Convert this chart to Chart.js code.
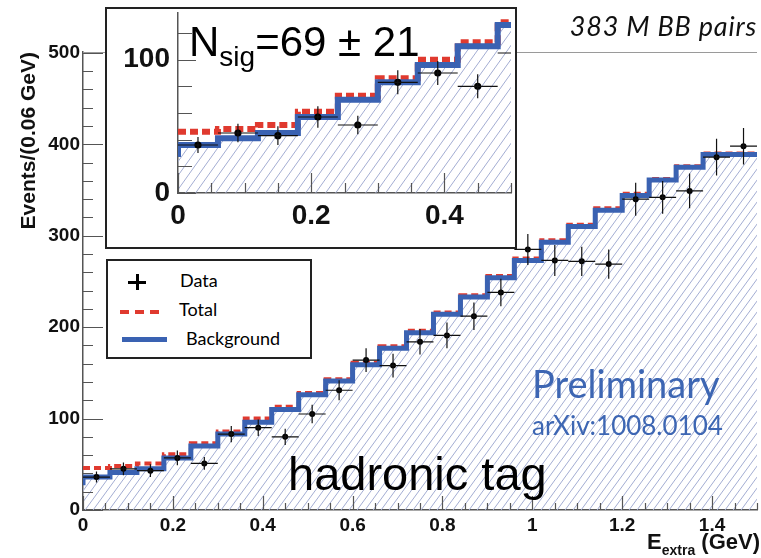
<!DOCTYPE html>
<html>
<head>
<meta charset="utf-8">
<title>E_extra hadronic tag</title>
<script src="https://cdn.jsdelivr.net/npm/chart.js@4.4.1/dist/chart.umd.min.js"></script>
<style>
body { margin: 0; background: #fff; }
#wrap { position: relative; width: 761px; height: 558px; overflow: hidden; background: #fff; }
#mainChart { position: absolute; left: 0; top: 0; }
#insetBox { position: absolute; left: 105px; top: 7px; width: 412px; height: 242px; border: 2px solid #222; box-sizing: border-box; background: #fff; }
#insetChart { position: absolute; left: 0; top: 0; }
.txt { position: absolute; white-space: nowrap; line-height: 1; }
.helv { font-family: 'Liberation Sans', Arial, sans-serif; }
.gill { font-family: Lato, 'Open Sans', sans-serif; }
#legendBox { position: absolute; left: 106px; top: 259px; width: 206px; height: 100px; border: 2px solid #222; box-sizing: border-box; background: #fff; }
.mk { position: absolute; }
</style>
</head>
<body>
<div id="wrap">
    <canvas id="mainChart" width="761" height="558"></canvas>

    <div id="insetBox">
        <canvas id="insetChart" width="408" height="238"></canvas>
    </div>
    <div class="txt helv" style="left:189px; top:21px; font-size:42px; color:#000;">N<span style="font-size:28px; position:relative; top:10px;">sig</span>=69 ± 21</div>

    <div id="legendBox"></div>
    <div class="mk" style="left:128px; top:281px; width:18px; height:3px; background:#000;"></div>
    <div class="mk" style="left:136px; top:274px; width:3px; height:16px; background:#000;"></div>
    <div class="mk" style="left:120px; top:310px; width:9px; height:4px; background:#e03a2f;"></div>
    <div class="mk" style="left:135px; top:310px; width:9px; height:4px; background:#e03a2f;"></div>
    <div class="mk" style="left:150px; top:310px; width:9px; height:4px; background:#e03a2f;"></div>
    <div class="mk" style="left:122px; top:337px; width:45px; height:5px; background:#3a62b2;"></div>
    <div class="txt gill" style="left:180px; top:271px; font-size:18px;">Data</div>
    <div class="txt gill" style="left:179px; top:300px; font-size:18px;">Total</div>
    <div class="txt gill" style="left:186px; top:329px; font-size:18px;">Background</div>

    <div class="txt gill" style="right:4px; top:12px; font-size:27px; letter-spacing:0.8px; font-style:italic; color:#111;">383 M BB pairs</div>
    <div class="txt gill" style="left:532px; top:364px; font-size:38px; color:#3d66b3;">Preliminary</div>
    <div class="txt gill" style="left:532px; top:412px; font-size:26px; color:#3d66b3;">arXiv:1008.0104</div>
    <div class="txt helv" style="left:288px; top:450px; font-size:47px; color:#000;">hadronic tag</div>
    <div class="txt helv" style="right:1px; top:531px; font-size:22px; font-weight:bold; color:#111;">E<span style="font-size:14px; position:relative; top:6px;">extra</span> (GeV)</div>
</div>

<script>
// bins of 0.06 GeV, centres
var binCenters = [0.03, 0.09, 0.15, 0.21, 0.27, 0.33, 0.39, 0.45, 0.51, 0.57, 0.63, 0.69, 0.75,
                  0.81, 0.87, 0.93, 0.99, 1.05, 1.11, 1.17, 1.23, 1.29, 1.35, 1.41, 1.47];
var binWidth = 0.06;

var dataEvents = [36, 45, 43, 57, 51, 83, 90, 80, 105, 131, 164, 158, 184,
                  191, 212, 238, 285, 273, 272, 269, 340, 342, 349, 386, 398];
var dataErrors = [6, 7, 7, 8, 7, 9, 9, 9, 10, 11, 13, 13, 14,
                  14, 15, 15, 17, 17, 16, 16, 18, 18, 19, 20, 20];
var totalFit = [46, 46, 48, 51, 61, 73, 86, 100, 113, 128, 143, 161, 179,
                196, 216, 235, 256, 275, 295, 312, 330, 346, 362, 376, 390];
var backgroundFit = [27, 36, 41, 45, 57, 70, 83, 96, 110, 126, 141, 159, 177,
                     194, 214, 233, 254, 273, 293, 310, 328, 344, 361, 375, 389];

var xTickValues = [0, 0.2, 0.4, 0.6, 0.8, 1, 1.2, 1.4];
var yTickValues = [0, 100, 200, 300, 400, 500];
var insetXTickValues = [0, 0.2, 0.4];
var insetYTickValues = [0, 100];

var blueColor = '#3a62b2';
var redColor = '#e03a2f';

function stepPoints(values) {
    var pts = binCenters.map(function (c, i) {
        return { x: c - binWidth / 2, y: values[i] };
    });
    var last = binCenters.length - 1;
    pts.push({ x: binCenters[last] + binWidth / 2, y: values[last] });
    return pts;
}

function makeHatch(w, h, color) {
    var c = document.createElement('canvas');
    c.width = w; c.height = h;
    var g = c.getContext('2d');
    g.strokeStyle = color;
    g.lineWidth = 1;
    for (var k = -1; k <= 1; k++) {
        g.beginPath();
        g.moveTo(k * w, h);
        g.lineTo(k * w + w, 0);
        g.stroke();
    }
    return g.createPattern(c, 'repeat');
}

function fixedTicks(values) {
    return function (scale) {
        scale.ticks = values.map(function (v) { return { value: v }; });
    };
}

var errorBarPlugin = {
    id: 'errorBars',
    afterDatasetsDraw: function (chart, args, opts) {
        var xs = chart.scales.x, ys = chart.scales.y, ctx = chart.ctx, a = chart.chartArea;
        ctx.save();
        ctx.beginPath();
        ctx.rect(a.left, a.top, a.right - a.left, a.bottom - a.top);
        ctx.clip();
        ctx.strokeStyle = '#111';
        ctx.lineWidth = opts.lineWidth;
        binCenters.forEach(function (c, i) {
            var px = xs.getPixelForValue(c);
            var py = ys.getPixelForValue(dataEvents[i]);
            var x0 = xs.getPixelForValue(c - binWidth / 2), x1 = xs.getPixelForValue(c + binWidth / 2);
            var y0 = ys.getPixelForValue(dataEvents[i] - dataErrors[i]);
            var y1 = ys.getPixelForValue(dataEvents[i] + dataErrors[i]);
            ctx.beginPath();
            ctx.moveTo(x0, py); ctx.lineTo(x1, py);
            ctx.moveTo(px, y0); ctx.lineTo(px, y1);
            ctx.stroke();
        });
        ctx.restore();
    }
};

// inward ROOT style ticks and the frame
var frameTicksPlugin = {
    id: 'frameTicks',
    afterDraw: function (chart, args, o) {
        var a = chart.chartArea, ctx = chart.ctx, xs = chart.scales.x, ys = chart.scales.y;
        ctx.save();
        if (o.frameColor) {
            ctx.strokeStyle = o.frameColor;
            ctx.lineWidth = 1;
            ctx.beginPath();
            ctx.moveTo(a.left, a.top + 0.5); ctx.lineTo(a.right, a.top + 0.5);
            ctx.stroke();
        }
        ctx.strokeStyle = o.tickColor;
        ctx.lineWidth = 1.2;
        ctx.beginPath();
        var n = Math.round(ys.max / o.yMinor);
        for (var i = 0; i <= n; i++) {
            var v = i * o.yMinor;
            if (v > ys.max) break;
            var len = (i % o.yPer === 0) ? o.yMajorLen : o.yMinorLen;
            var py = Math.round(ys.getPixelForValue(v)) + 0.5;
            ctx.moveTo(a.left, py); ctx.lineTo(a.left + len, py);
        }
        var m = Math.round(xs.max / o.xMinor);
        for (var j = 0; j <= m; j++) {
            var u = j * o.xMinor;
            var l2 = (j % o.xPer === 0) ? o.xMajorLen : o.xMinorLen;
            var px = Math.round(xs.getPixelForValue(u)) + 0.5;
            ctx.moveTo(px, a.bottom); ctx.lineTo(px, a.bottom - l2);
        }
        ctx.stroke();
        ctx.restore();
    }
};

function histDatasets(hatch, lw) {
    return [
        {
            label: 'Data',
            data: binCenters.map(function (c, i) { return { x: c, y: dataEvents[i] }; }),
            showLine: false,
            pointRadius: lw.dot,
            pointBackgroundColor: '#000',
            pointBorderWidth: 0,
            order: 0
        },
        {
            label: 'Background',
            data: stepPoints(backgroundFit),
            stepped: 'after',
            borderColor: blueColor,
            borderWidth: lw.blue,
            backgroundColor: hatch,
            fill: 'origin',
            pointRadius: 0,
            order: 1
        },
        {
            label: 'Total',
            data: stepPoints(totalFit),
            stepped: 'after',
            borderColor: redColor,
            borderWidth: lw.red,
            borderDash: lw.dash,
            fill: false,
            pointRadius: 0,
            order: 2
        }
    ];
}

function fmtTick(v) {
    return String(Number(Number(v).toFixed(2)));
}

function createMainChart() {
    var ctx = document.getElementById('mainChart').getContext('2d');
    var labelFont = { family: 'Liberation Sans', weight: 'bold', size: 19 };
    return new Chart(ctx, {
        type: 'line',
        data: { datasets: histDatasets(makeHatch(8, 11, '#a3add3'), { dot: 3, blue: 5, red: 4, dash: [7, 4] }) },
        options: {
            responsive: false,
            animation: false,
            devicePixelRatio: 1,
            layout: { padding: { top: 52, right: 0, left: 0, bottom: 0 } },
            plugins: {
                legend: { display: false },
                tooltip: { enabled: false },
                filler: { drawTime: 'beforeDatasetsDraw' },
                errorBars: { lineWidth: 1.2 },
                frameTicks: {
                    frameColor: '#9a9a9a', tickColor: '#555',
                    yMinor: 20, yPer: 5, yMajorLen: 20, yMinorLen: 10,
                    xMinor: 0.05, xPer: 4, xMajorLen: 14, xMinorLen: 7
                }
            },
            scales: {
                x: {
                    type: 'linear', min: 0, max: 1.5,
                    afterBuildTicks: fixedTicks(xTickValues),
                    afterFit: function (s) { s.height = 48; },
                    grid: { display: false, drawTicks: false },
                    border: { display: true, color: '#555', width: 1.5 },
                    ticks: {
                        padding: 4, autoSkip: false, maxRotation: 0,
                        color: '#111', font: labelFont, callback: fmtTick
                    }
                },
                y: {
                    type: 'linear', min: 0, max: 501,
                    afterBuildTicks: fixedTicks(yTickValues),
                    afterFit: function (s) { s.width = 83; s.paddingTop = 0; },
                    grid: { display: false, drawTicks: false },
                    border: { display: true, color: '#555', width: 1.5 },
                    ticks: {
                        padding: 3, autoSkip: false,
                        color: '#111', font: labelFont, callback: fmtTick
                    },
                    title: {
                        display: true, text: 'Events/(0.06 GeV)', align: 'end', color: '#111',
                        font: { family: 'Liberation Sans', weight: 'bold', size: 21 },
                        padding: { top: 17, bottom: 0 }
                    }
                }
            }
        },
        plugins: [errorBarPlugin, frameTicksPlugin]
    });
}

function createInsetChart() {
    var ctx = document.getElementById('insetChart').getContext('2d');
    var labelFont = { family: 'Liberation Sans', weight: 'bold', size: 28 };
    return new Chart(ctx, {
        type: 'line',
        data: { datasets: histDatasets(makeHatch(10, 14, '#a3add3'), { dot: 3.6, blue: 6, red: 6, dash: [8, 4] }) },
        options: {
            responsive: false,
            animation: false,
            devicePixelRatio: 1,
            layout: { padding: 0 },
            plugins: {
                legend: { display: false },
                tooltip: { enabled: false },
                filler: { drawTime: 'beforeDatasetsDraw' },
                errorBars: { lineWidth: 1.2 },
                frameTicks: {
                    frameColor: null, tickColor: '#555',
                    yMinor: 20, yPer: 5, yMajorLen: 18, yMinorLen: 14,
                    xMinor: 0.05, xPer: 4, xMajorLen: 20, xMinorLen: 10
                }
            },
            scales: {
                x: {
                    type: 'linear', min: 0, max: 0.5,
                    afterBuildTicks: fixedTicks(insetXTickValues),
                    afterFit: function (s) { s.height = 54; s.paddingRight = 0; },
                    grid: { display: false, drawTicks: false },
                    border: { display: true, color: '#555', width: 1.5 },
                    ticks: {
                        padding: 6, autoSkip: false, maxRotation: 0,
                        color: '#111', font: labelFont, callback: fmtTick
                    }
                },
                y: {
                    type: 'linear', min: 0, max: 135,
                    afterBuildTicks: fixedTicks(insetYTickValues),
                    afterFit: function (s) { s.width = 71; s.paddingTop = 0; },
                    grid: { display: false, drawTicks: false },
                    border: { display: true, color: '#555', width: 1.5 },
                    ticks: {
                        padding: 8, autoSkip: false,
                        color: '#111', font: labelFont, callback: fmtTick
                    }
                }
            }
        },
        plugins: [errorBarPlugin, frameTicksPlugin]
    });
}

var mainChart = createMainChart();
var insetChart = createInsetChart();
</script>
</body>
</html>
